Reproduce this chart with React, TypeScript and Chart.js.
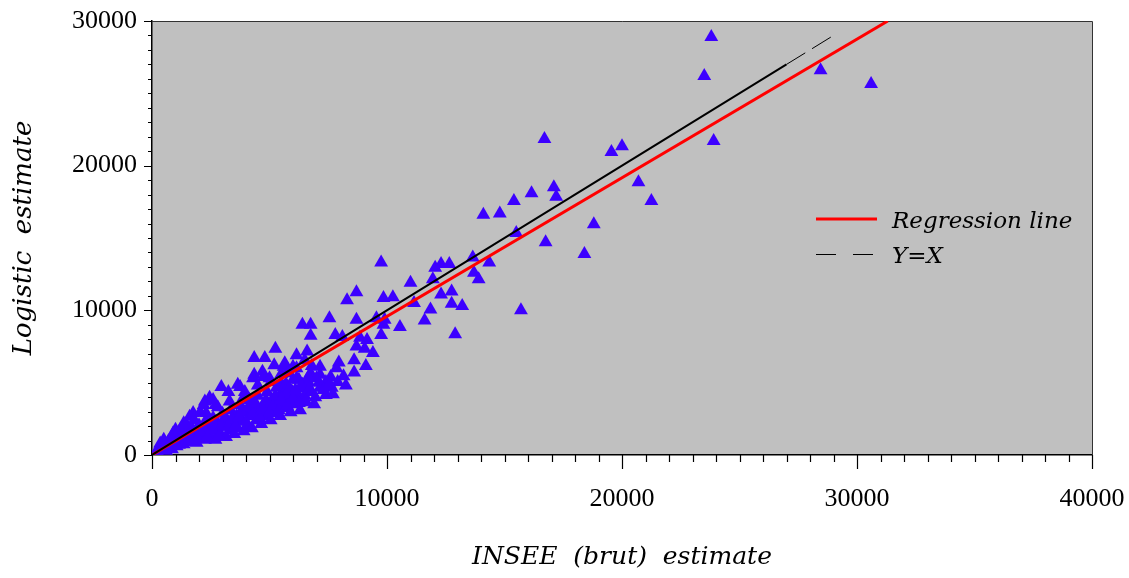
import React, { useEffect, useRef } from "react";
import { Chart, registerables } from "chart.js";

Chart.register(...registerables);

// INSEE (brut) estimate (x) vs Logistic estimate (y)
const insee: number[] = [
  23800, 23500, 28450, 30600, 23900, 16700, 19550, 20000, 20700, 21250,
  17100, 17200, 16150, 15400, 14800, 14100, 16750, 18800, 18400, 15500,
  15700, 12900, 13650, 14350, 13700, 13900, 12050, 12300, 12650, 11950,
  11000, 12300, 12750, 12750, 13200, 11850, 11600, 11150, 9850, 10250,
  9750, 8700, 8300, 10550, 7550, 6400, 6750, 6750, 7800, 8700,
  8850, 9150, 9550, 9900, 9850, 9750, 8700, 9050, 9400, 8600,
  9100, 7950, 8600, 8150, 8250, 7600, 7400, 7150, 6600, 6500,
  6800, 6750, 6400, 6400, 6000, 6000, 5250, 4800, 4350, 5200,
  5600, 4350, 4750, 5050, 5500, 5500, 5250, 6150, 5650, 6450,
  6250, 4300, 3750, 2950, 2250, 1750, 1350, 1000, 500,
  170, 300, 400, 450, 550, 650, 700, 800, 900, 1000,
  1050, 1100, 1200, 1300, 1350, 1400, 1500, 1550, 1600, 1700,
  1800, 1850, 1900, 2000, 2100, 2150, 2250, 2300, 2400, 2450,
  2500, 2600, 2700, 2700, 2800, 2900, 3000, 3050, 3150, 3200,
  3300, 3350, 3450, 3500, 3600, 3650, 3750, 3850, 3900, 3950,
  4050, 4150, 4150, 4250, 4350, 4450, 4500, 4550, 4650, 4750,
  4800, 4900, 4950, 5050, 5100, 5200, 5300, 5350, 5450, 5550,
  5600, 5700, 5800, 5900, 5950, 6050, 6150, 6200, 6300, 6500,
  6650, 6800, 7000, 7150, 6900, 7400, 7650, 7900,
  1200, 1450, 2050, 2450, 2700, 3250, 3650, 3950, 4700,
  8100, 7150, 6650, 7850, 5750, 6150, 2600, 2200, 1600, 900, 350,
  250, 600, 750, 850, 950, 1150, 1250, 1450, 1650, 1750,
  1950, 2050, 2200, 2350, 2550, 2650, 2850, 2950, 3100, 3250,
  3400, 3550, 3700, 3800, 4000, 4100, 4300, 4400, 4600, 4700,
  4850, 5000, 5150, 5250, 5400, 5500, 5650, 5750, 5850, 6000,
  6100, 6250, 6350, 6550, 6700, 6950, 7100, 7300, 7550, 7700,
  3300, 2800, 3900, 4500, 5000, 5500, 1800, 2300,
];
const logistic: number[] = [
  28900, 26200, 26600, 25650, 21700, 21850, 20950, 21350, 18850, 17550,
  18500, 17850, 18100, 17550, 16700, 16600, 14700, 15950, 13900, 15350,
  10000, 8350, 13650, 13300, 12600, 12150, 12950, 13200, 13200, 12150,
  11900, 11100, 11300, 10450, 10300, 10050, 9300, 10500, 10850, 10900,
  13300, 11250, 10700, 8850, 9450, 9000, 9000, 8250, 8300, 9350,
  8100, 7950, 9450, 9350, 9000, 8300, 7500, 7350, 7050, 6550,
  6150, 6400, 5700, 5450, 4800, 5400, 5050, 5550, 7150, 6550,
  6150, 5650, 4850, 3650, 6100, 5200, 7350, 6700, 6700, 6200,
  6100, 5550, 5400, 5050, 4950, 4250, 3450, 6900, 6350, 4600,
  5200, 5300, 4700, 4700, 3700, 2900, 2200, 1750, 1050,
  210, 400, 600, 350, 750, 550, 950, 700, 1200, 850,
  600, 1300, 950, 1500, 750, 1150, 1700, 950, 1400, 1850,
  1200, 1600, 850, 2050, 1300, 1700, 1050, 2400, 1500, 2000,
  1250, 2550, 1700, 1050, 2200, 1500, 2850, 1950, 1250, 2400,
  1700, 3100, 2150, 1450, 2700, 1850, 3450, 2400, 1650, 2950,
  2050, 3800, 2700, 1850, 3250, 2400, 4100, 2900, 2150, 3500,
  2700, 4350, 3200, 2400, 3800, 2950, 4650, 3500, 2700, 4150,
  3250, 4900, 3800, 2950, 4400, 3500, 5300, 4150, 3100, 4100,
  5050, 4350, 5300, 4650, 3500, 4150, 4650, 5050,
  1750, 2150, 2950, 3950, 3450, 4350, 4850, 4350, 5750,
  8150, 6100, 5400, 6000, 5650, 6000, 3800, 3450, 2650, 1500, 800,
  150, 300, 500, 400, 650, 700, 1100, 900, 1100, 1450,
  1200, 1600, 1900, 1200, 1800, 2150, 1300, 2000, 2600, 1950,
  2500, 2000, 2600, 3000, 2300, 3300, 2850, 3600, 2500, 3150,
  3800, 2900, 3400, 4100, 3100, 3800, 4300, 3400, 4600, 3900,
  4500, 3600, 4800, 3700, 4600, 4000, 5000, 4500, 4900, 4200,
  3700, 3300, 4000, 4800, 5300, 5600, 2400, 2900,
];

const regressionX: number[] = [0, 31310];
const regressionY: number[] = [0, 30000];
const identityX: number[] = [0, 27000, 29000];
const identityY: number[] = [0, 27000, 29000];

const xTickLabels: string[] = ["0", "10000", "20000", "30000", "40000"];
const yTickLabels: string[] = ["0", "10000", "20000", "30000"];

const legendLabels: string[] = ["Regression line", "Y=X"];

const serifItalic = "'DejaVu Serif', serif";

export default function App() {
  const ref = useRef<HTMLCanvasElement | null>(null);

  useEffect(() => {
    const canvas = ref.current;
    if (!canvas) return;

    const zeroPad = (s: any) => {
      s.paddingTop = 0;
      s.paddingBottom = 0;
      s.paddingLeft = 0;
      s.paddingRight = 0;
    };

    const decor = {
      id: "decor",
      beforeDatasetsDraw(chart: any) {
        const { ctx, chartArea } = chart;
        ctx.save();
        ctx.strokeStyle = "#333";
        ctx.lineWidth = 1;
        ctx.beginPath();
        ctx.moveTo(chartArea.left, chartArea.top + 0.5);
        ctx.lineTo(chartArea.right + 0.5, chartArea.top + 0.5);
        ctx.lineTo(chartArea.right + 0.5, chartArea.bottom);
        ctx.stroke();
        ctx.restore();
      },
      afterDraw(chart: any) {
        const { ctx, chartArea, scales } = chart;
        const xs = scales.x;
        const ys = scales.y;
        ctx.save();
        ctx.strokeStyle = "#000";
        ctx.lineWidth = 1.2;
        ctx.beginPath();
        for (let v = 0; v <= 40000; v += 1000) {
          const px = Math.round(xs.getPixelForValue(v)) + 0.5;
          const len = v % 10000 === 0 ? 14 : 7;
          ctx.moveTo(px, chartArea.bottom);
          ctx.lineTo(px, chartArea.bottom + len);
        }
        for (let v = 0; v <= 30000; v += 1000) {
          const py = Math.round(ys.getPixelForValue(v)) + 0.5;
          const len = v % 10000 === 0 ? 8 : 4;
          ctx.moveTo(chartArea.left, py);
          ctx.lineTo(chartArea.left - len, py);
        }
        ctx.stroke();

        // legend
        const lx = 816;
        const lx2 = 877;
        const ly1 = 219;
        const ly2 = 254;
        ctx.strokeStyle = "#ff0000";
        ctx.lineWidth = 3;
        ctx.beginPath();
        ctx.moveTo(lx, ly1);
        ctx.lineTo(lx2, ly1);
        ctx.stroke();
        ctx.strokeStyle = "#000";
        ctx.lineWidth = 1;
        ctx.setLineDash([20, 17]);
        ctx.beginPath();
        ctx.moveTo(lx, ly2 + 0.5);
        ctx.lineTo(lx2, ly2 + 0.5);
        ctx.stroke();
        ctx.setLineDash([]);
        ctx.fillStyle = "#000";
        ctx.font = `italic 23px ${serifItalic}`;
        ctx.textBaseline = "middle";
        ctx.textAlign = "left";
        ctx.fillText(legendLabels[0], 892, 222);
        ctx.fillText(legendLabels[1], 892, 257);
        ctx.restore();
      },
    };

    const chart = new Chart(canvas, {
      type: "scatter",
      data: {
        datasets: [
          {
            type: "line",
            label: legendLabels[1],
            data: identityX.map((x, i) => ({ x, y: identityY[i] })),
            borderColor: "#000",
            borderWidth: 2,
            pointRadius: 0,
            fill: false,
            segment: {
              borderDash: (ctx: any) => (ctx.p0DataIndex >= 1 ? [22, 8] : undefined),
              borderWidth: (ctx: any) => (ctx.p0DataIndex >= 1 ? 1 : 2),
            } as any,
          },
          {
            type: "line",
            label: legendLabels[0],
            data: regressionX.map((x, i) => ({ x, y: regressionY[i] })),
            borderColor: "#ff0000",
            borderWidth: 3,
            pointRadius: 0,
            fill: false,
          },
          {
            type: "scatter",
            label: "estimates",
            data: insee.map((x, i) => ({ x, y: logistic[i] })),
            pointStyle: "triangle",
            pointRadius: 8,
            backgroundColor: "#3c00ff",
            borderColor: "#3c00ff",
            borderWidth: 0,
          },
        ],
      },
      options: {
        animation: false,
        responsive: false,
        events: [],
        layout: { padding: { top: 21, right: 37, left: 0, bottom: 0 } },
        plugins: {
          legend: { display: false },
          tooltip: { enabled: false },
        },
        scales: {
          x: {
            type: "linear",
            min: 0,
            max: 40000,
            afterFit: (s: any) => {
              s.height = 123;
              zeroPad(s);
            },
            afterBuildTicks: (s: any) => {
              s.ticks = xTickLabels.map((t) => ({ value: Number(t) }));
            },
            ticks: {
              color: "#000",
              font: { family: "'Liberation Serif', serif", size: 26 },
              padding: 29,
              maxRotation: 0,
              autoSkip: false,
              callback: (v: any) => String(v),
            },
            grid: { display: false, drawTicks: false },
            border: { display: true, color: "#000", width: 1.5 },
            title: {
              display: true,
              text: "INSEE  (brut)  estimate",
              color: "#000",
              font: { family: serifItalic, style: "italic", size: 25 },
              padding: { top: 0, bottom: 6 },
            },
          },
          y: {
            type: "linear",
            min: 0,
            max: 30000,
            afterFit: (s: any) => {
              s.width = 152;
              zeroPad(s);
            },
            afterBuildTicks: (s: any) => {
              s.ticks = yTickLabels.map((t) => ({ value: Number(t) }));
            },
            ticks: {
              color: "#000",
              font: { family: "'Liberation Serif', serif", size: 26 },
              padding: 15,
              autoSkip: false,
              callback: (v: any) => String(v),
            },
            grid: { display: false, drawTicks: false },
            border: { display: true, color: "#000", width: 1.5 },
            title: {
              display: true,
              text: "Logistic  estimate",
              color: "#000",
              font: { family: serifItalic, style: "italic", size: 26 },
              padding: { top: 9, bottom: 0 },
            },
          },
        },
      },
      plugins: [
        {
          id: "bg",
          beforeDraw(chart: any) {
            const { ctx, chartArea } = chart;
            ctx.save();
            ctx.fillStyle = "#c0c0c0";
            ctx.fillRect(chartArea.left, chartArea.top, chartArea.right - chartArea.left, chartArea.bottom - chartArea.top);
            ctx.restore();
          },
        },
        decor,
      ],
    } as any);

    return () => chart.destroy();
  }, []);

  return (
    <div style={{ position: "fixed", left: 0, top: 0, width: 1129, height: 578, background: "#fff" }}>
      <canvas ref={ref} width={1129} height={578} style={{ display: "block", width: 1129, height: 578 }} />
    </div>
  );
}
